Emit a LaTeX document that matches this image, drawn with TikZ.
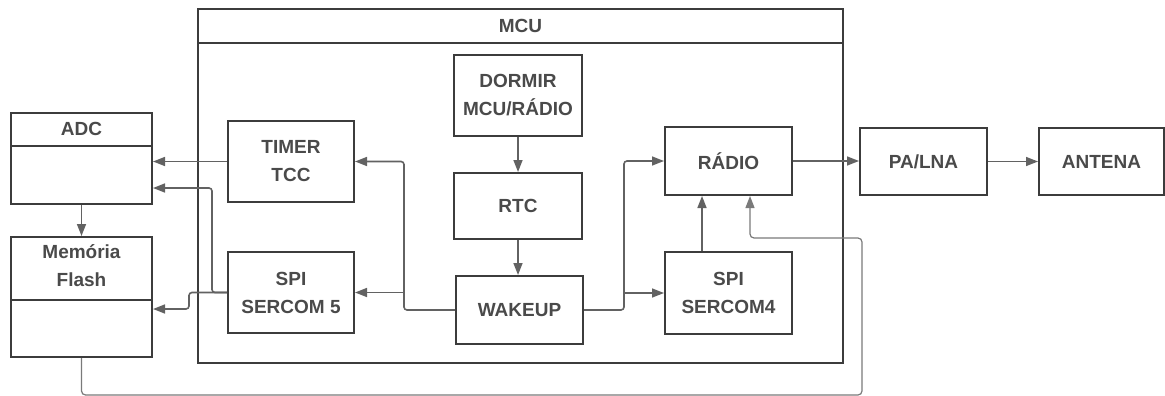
\documentclass[tikz,border=0pt]{standalone}
\usepackage{fontspec}
\setmainfont{Liberation Sans}
\usetikzlibrary{arrows.meta,calc}
\definecolor{boxc}{HTML}{3C3C3C}
\definecolor{linec}{HTML}{626262}
\definecolor{loopc}{HTML}{7A7A7A}
\definecolor{txtc}{HTML}{4A4A4A}
\begin{document}
\begin{tikzpicture}[x=1pt,y=-1pt,
 blk/.style={draw=boxc, line width=2pt, inner sep=0pt, fill=white},
 lbl/.style={font=\fontsize{19}{28}\selectfont\bfseries, text=txtc, align=center},
 sep/.style={draw=boxc, line width=2pt},
 wire/.style={draw=linec, line width=1.6pt, rounded corners=3pt, -{Triangle[length=12pt,width=9pt]}},
 loopwire/.style={draw=loopc, line width=1.2pt, rounded corners=4pt, -{Triangle[length=12pt,width=9pt]}},
]
\useasboundingbox (0,0) rectangle (1165,396);
\fill[white] (0,0) rectangle (1165,396);

% containers
\node[blk, minimum width=645pt, minimum height=354pt] (mcu) at (520.5,186) {};
\draw[sep] ($(mcu.north west)+(0,35)$) -- ($(mcu.north east)+(0,35)$);
\node[lbl] (mcut) at ($(mcu.north)+(0,17.5)$) {MCU};

\node[blk, minimum width=141pt, minimum height=91pt] (adc) at (81.5,158.5) {};
\draw[sep] ($(adc.north west)+(0,34)$) -- ($(adc.north east)+(0,34)$);
\node[lbl] (adct) at ($(adc.north)+(0,17)$) {ADC};

\node[blk, minimum width=141pt, minimum height=120pt] (flash) at (81.5,297) {};
\draw[sep] ($(flash.north west)+(0,64)$) -- ($(flash.north east)+(0,64)$);
\node[lbl] (flasht) at ($(flash.north)+(0,30)$) {Memória\\Flash};

% inner blocks
\node[blk, lbl, minimum width=126pt, minimum height=81pt] (timer) at (291,161.5) {TIMER\\TCC};
\node[blk, lbl, minimum width=126pt, minimum height=81pt] (s5) at (291,292.5) {SPI\\SERCOM 5};
\node[blk, lbl, minimum width=128pt, minimum height=81pt] (dorm) at (518,95.5) {DORMIR\\MCU/RÁDIO};
\node[blk, lbl, minimum width=128pt, minimum height=66pt] (rtc) at (518,206) {RTC};
\node[blk, lbl, minimum width=127pt, minimum height=68pt] (wake) at (519.5,310) {WAKEUP};
\node[blk, lbl, minimum width=127pt, minimum height=68pt] (radio) at (728.5,161) {RÁDIO};
\node[blk, lbl, minimum width=127pt, minimum height=82pt] (s4) at (728.5,293) {SPI\\SERCOM4};
\node[blk, lbl, minimum width=127pt, minimum height=67pt] (pa) at (923.5,161.5) {PA/LNA};
\node[blk, lbl, minimum width=125pt, minimum height=67pt] (ant) at (1101.5,161.5) {ANTENA};

% junction coordinates
\coordinate (jl) at ($(wake.west)+(-51,0)$);
\coordinate (jr) at ($(wake.east)+(40,0)$);

% connectors
\draw[wire] (timer.west) -- (adc.east |- timer.west);
\draw[wire] (s5.west) -- ++(-15,0) |- ($(adc.east)+(0,29.5)$);
\draw[wire] (s5.west) -- ++(-38,0) |- ($(flash.east)+(0,12)$);
\draw[wire] (adc.south) -- (flash.north);
\draw[wire] (dorm.south) -- (rtc.north);
\draw[wire] (rtc.south) -- (rtc.south |- wake.north);
\draw[wire] (wake.west) -- (jl) |- (timer.east);
\draw[wire] (jl |- s5.east) -- (s5.east);
\draw[wire] (wake.east) -- (jr) |- (radio.west);
\draw[wire] (jr |- s4.west) -- (s4.west);
\draw[wire] ($(s4.north)+(-26.5,0)$) -- ($(radio.south)+(-26.5,0)$);
\draw[wire] (radio.east) -- (radio.east -| pa.west);
\draw[wire] (pa.east) -- (pa.east -| ant.west);
\draw[loopwire] (flash.south) -- ++(0,37) -| ($(radio.south)+(133.5,42)$) -| ($(radio.south)+(21.5,0)$);
\end{tikzpicture}
\end{document}
